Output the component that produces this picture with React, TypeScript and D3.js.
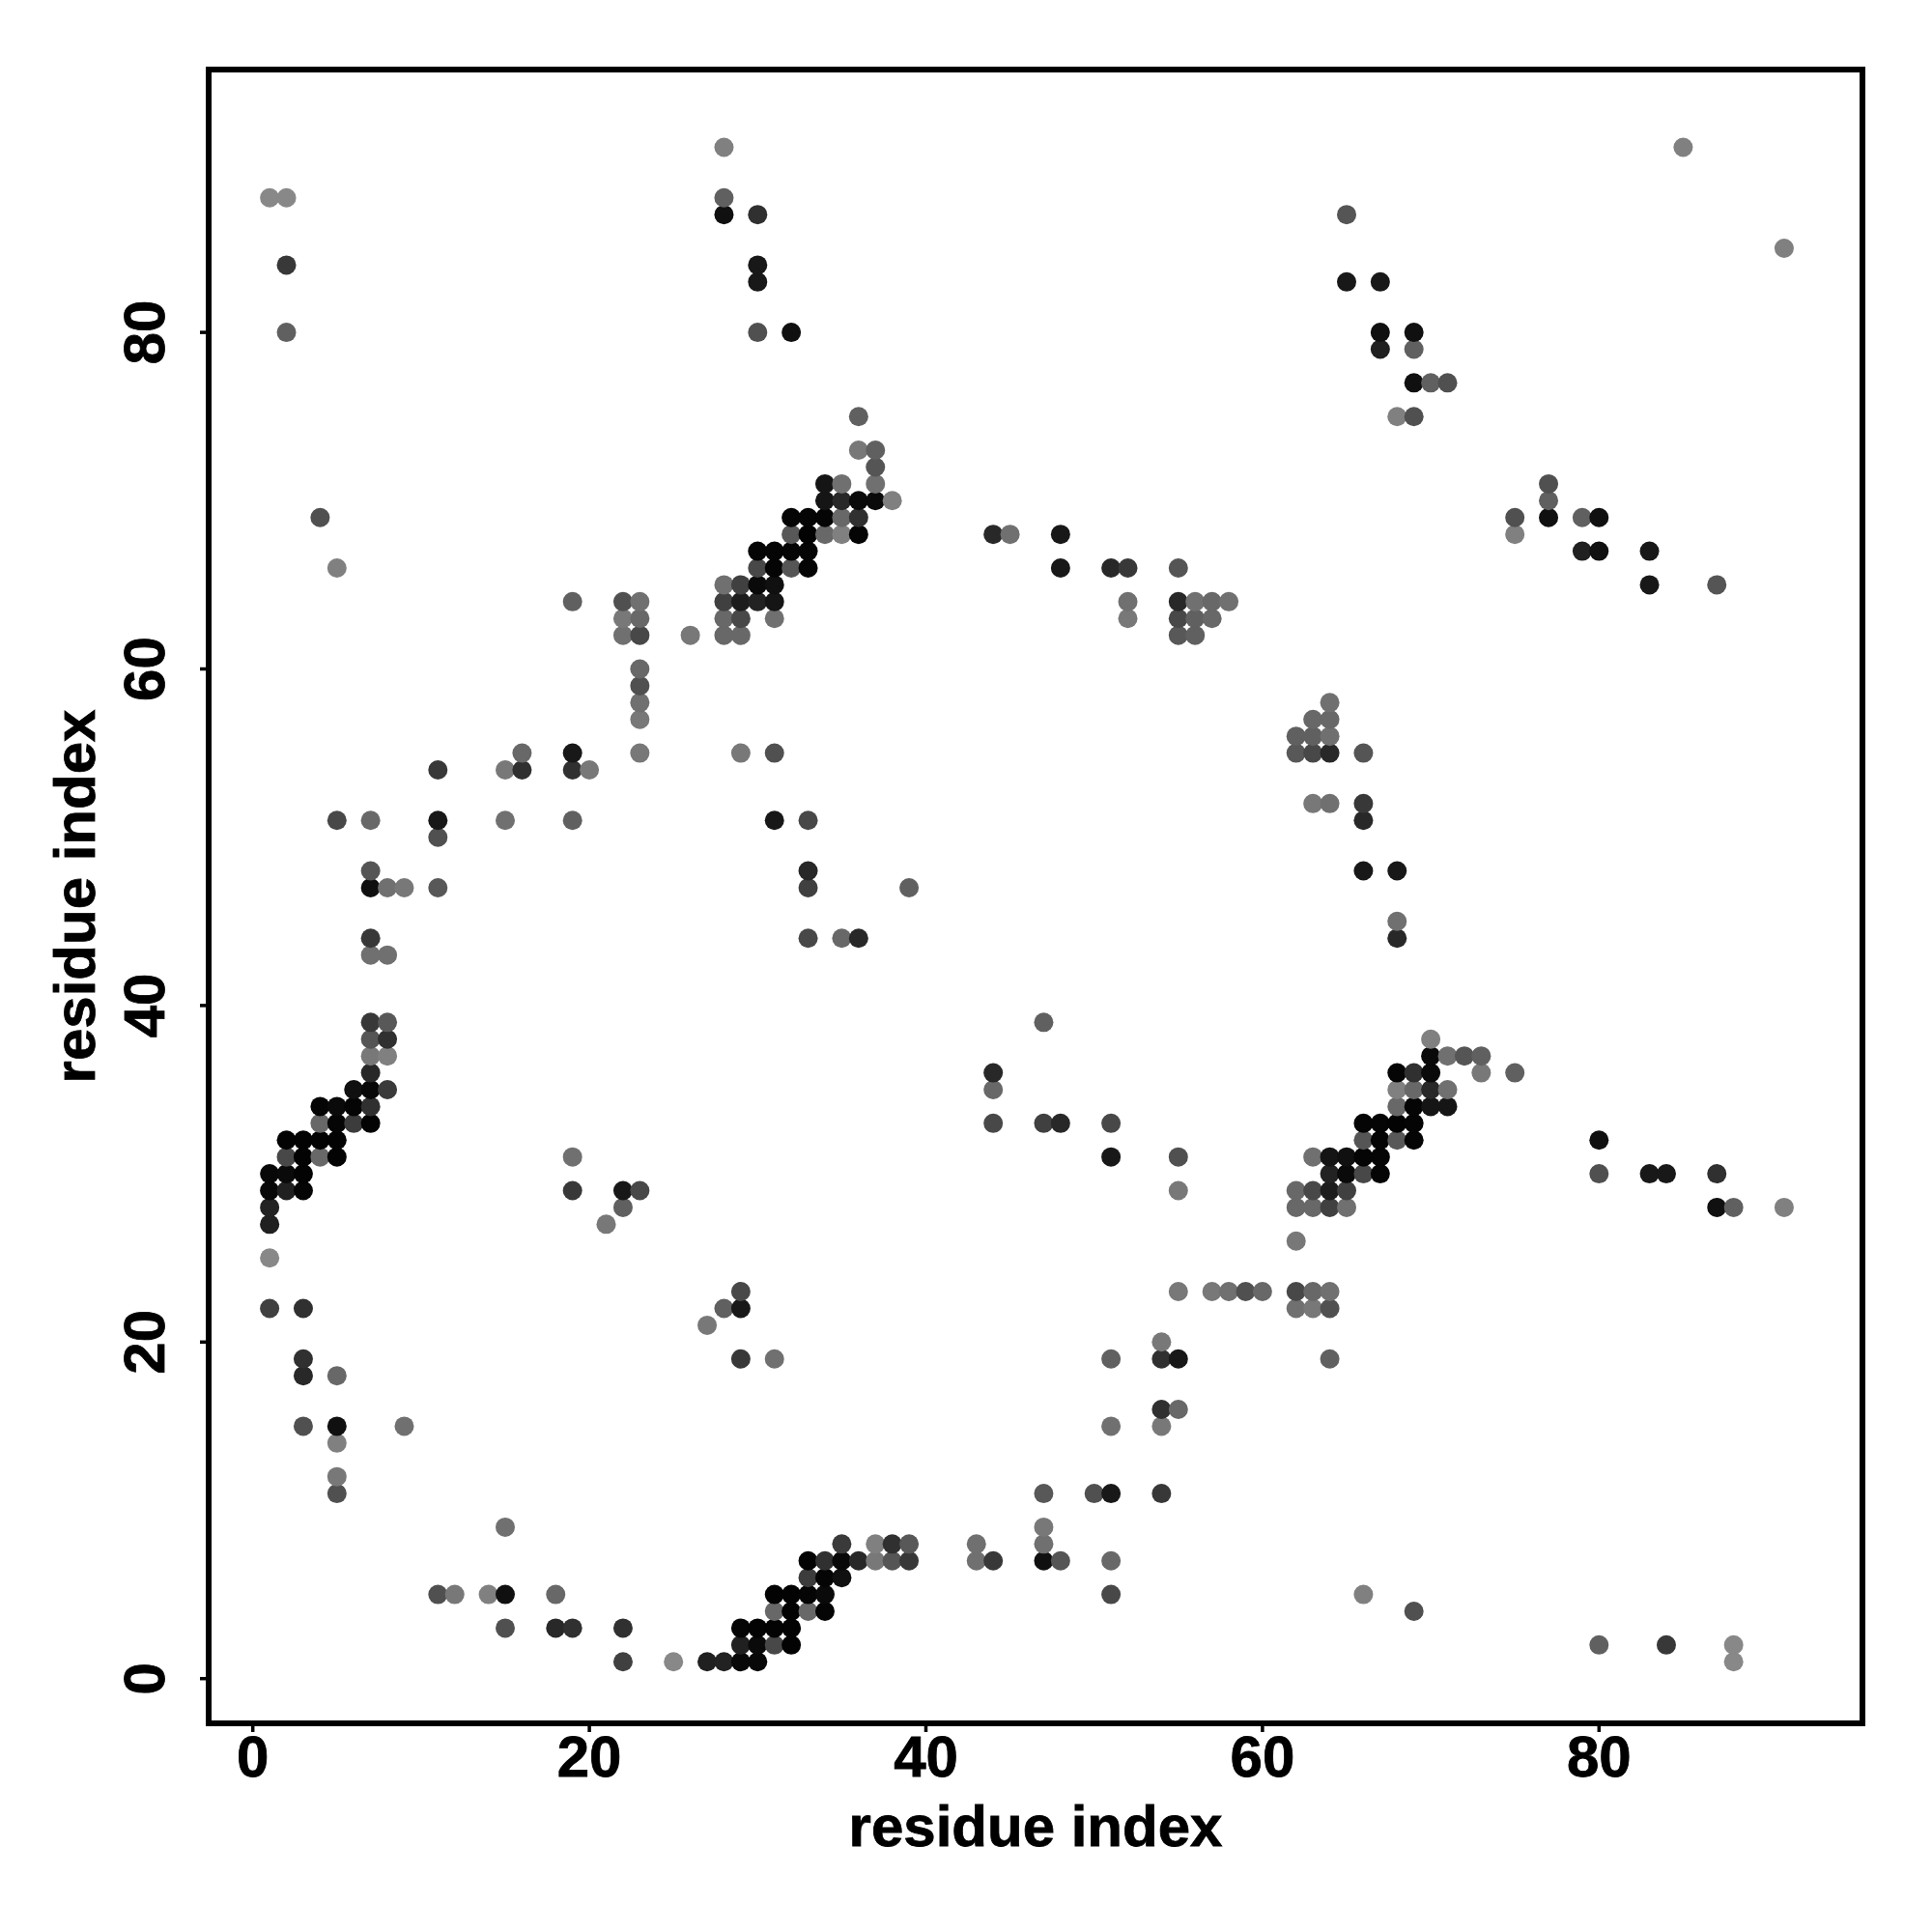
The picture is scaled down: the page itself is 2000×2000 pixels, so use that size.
import React from "react";
import * as d3 from "d3";

// Contact map is symmetric: each entry [i, j, grey level 0-255] marks (i,j) and (j,i)
const contactsLow: [number, number, number][] = [
  [1,22,0x40],[3,22,0x30],[3,19,0x30],[3,18,0x28],[5,18,0x68],[3,15,0x50],[5,15,0x10],[9,15,0x70],
  [5,14,0x80],[5,12,0x78],[5,11,0x50],[1,25,0x88],[1,27,0x20],[1,28,0x22],
  [1,29,0x08],[2,29,0x20],[3,29,0x05],[1,30,0x08],[2,30,0x0a],[3,30,0x03],
  [2,31,0x48],[3,31,0x03],[4,31,0x68],[5,31,0x03],[2,32,0x03],[3,32,0x03],[4,32,0x03],[5,32,0x03],
  [4,33,0x68],[5,33,0x05],[6,33,0x3c],[7,33,0x03],[4,34,0x05],[5,34,0x0a],[6,34,0x05],[7,34,0x30],
  [6,35,0x10],[7,35,0x08],[8,35,0x3a],[7,36,0x28],[7,37,0x78],[8,37,0x80],[7,38,0x55],[8,38,0x30],
  [7,39,0x38],[8,39,0x58],[7,43,0x70],[8,43,0x70],[7,44,0x38],
  [7,47,0x10],[8,47,0x70],[9,47,0x78],[11,47,0x58],[7,48,0x55],[11,50,0x50],
  [5,51,0x48],[7,51,0x68],[11,51,0x18],[15,51,0x70],[19,51,0x60],
  [11,54,0x38],[15,54,0x78],[16,54,0x30],[19,54,0x30],[20,54,0x78],[16,55,0x68],[19,55,0x18],
];

const contactsMid: [number, number, number][] = [
  [19,31,0x70],[19,29,0x38],[22,29,0x18],[23,29,0x48],[22,28,0x60],[21,27,0x78],
  [23,55,0x78],[29,55,0x78],[31,55,0x50],[23,57,0x78],[23,58,0x70],[23,59,0x50],[23,60,0x68],
  [22,62,0x70],[23,62,0x48],[26,62,0x78],[28,62,0x68],[29,62,0x68],
  [22,63,0x78],[23,63,0x68],[28,63,0x68],[29,63,0x48],[31,63,0x70],
  [19,64,0x60],[22,64,0x50],[23,64,0x70],[28,64,0x40],[29,64,0x1c],[30,64,0x22],[31,64,0x15],
  [28,65,0x70],[29,65,0x40],[30,65,0x0a],[31,65,0x10],
  [30,66,0x48],[31,66,0x05],[32,66,0x55],[33,66,0x05],
  [30,67,0x05],[31,67,0x05],[32,67,0x05],[33,67,0x05],
  [32,68,0x58],[33,68,0x03],[34,68,0x68],[35,68,0x80],[36,68,0x05],
  [32,69,0x05],[33,69,0x05],[34,69,0x05],[35,69,0x68],[36,69,0x30],
  [34,70,0x15],[35,70,0x28],[36,70,0x0a],[37,70,0x0a],[38,70,0x80],
  [34,71,0x15],[35,71,0x70],[37,71,0x70],[37,72,0x55],[36,73,0x78],[37,73,0x60],[36,75,0x60],
  [31,51,0x18],[33,51,0x48],[33,48,0x28],[33,47,0x40],[39,47,0x60],[33,44,0x48],[35,44,0x68],[36,44,0x28],
];

const contactsHigh: [number, number, number][] = [
  [4,69,0x50],[5,66,0x80],[44,68,0x28],[45,68,0x70],[48,68,0x18],[48,66,0x18],
  [51,66,0x28],[52,66,0x38],[55,66,0x55],[52,64,0x70],[55,64,0x28],[56,64,0x70],[57,64,0x68],[58,64,0x70],
  [52,63,0x78],[55,63,0x48],[56,63,0x60],[57,63,0x68],[55,62,0x58],[56,62,0x60],
  [68,75,0x80],[69,75,0x50],[69,77,0x10],[70,77,0x60],[71,77,0x50],[67,79,0x20],[69,79,0x60],
  [2,80,0x60],[30,80,0x50],[32,80,0x10],[67,80,0x10],[69,80,0x10],
  [30,83,0x18],[65,83,0x18],[67,83,0x18],[2,84,0x38],[30,84,0x18],
  [28,87,0x10],[30,87,0x30],[65,87,0x55],[1,88,0x88],[2,88,0x88],[28,88,0x60],[28,91,0x80],[85,91,0x80],
];

const xTicks = [0, 20, 40, 60, 80];
const yTicks = [0, 20, 40, 60, 80];
const xTitle = "residue index";
const yTitle = "residue index";

const font = "'Liberation Sans', Arial, sans-serif";

export default function App() {
  const x = d3.scaleLinear().domain([0, 80]).range([261.7, 1655.3]);
  const y = d3.scaleLinear().domain([0, 80]).range([1737.7, 344.1]);
  const box = { l: 216, r: 1928, t: 72, b: 1784 };
  const all = [...contactsLow, ...contactsMid, ...contactsHigh];
  const points = all
    .flatMap(([a, b, g]) => [
      { px: a, py: b, g },
      { px: b, py: a, g },
    ])
    .sort((p, q) => d3.ascending(p.px, q.px) || d3.ascending(p.py, q.py));
  const textProps = { fontSize: 60, stroke: "#000", strokeWidth: 0.8 };
  return (
    <svg
      width={2000}
      height={2000}
      style={{ position: "absolute", left: 0, top: 0, background: "#fff" }}
      fontFamily={font}
      fontWeight="bold"
    >
      {points.map((p, i) => (
        <circle key={i} cx={x(p.px)} cy={y(p.py)} r={10} fill={d3.rgb(p.g, p.g, p.g).formatHex()} />
      ))}
      <rect
        x={box.l}
        y={box.t}
        width={box.r - box.l}
        height={box.b - box.t}
        fill="none"
        stroke="#000"
        strokeWidth={6}
      />
      {xTicks.map((t) => (
        <g key={t}>
          <line x1={x(t)} x2={x(t)} y1={box.b} y2={box.b + 9} stroke="#000" strokeWidth={3.5} />
          <text x={x(t)} y={1839} textAnchor="middle" {...textProps}>
            {t}
          </text>
        </g>
      ))}
      {yTicks.map((t) => (
        <g key={t}>
          <line x1={box.l} x2={box.l - 9} y1={y(t)} y2={y(t)} stroke="#000" strokeWidth={3.5} />
          <text transform={`translate(170,${y(t)}) rotate(-90)`} textAnchor="middle" {...textProps}>
            {t}
          </text>
        </g>
      ))}
      <text x={1072} y={1911} textAnchor="middle" {...textProps}>
        {xTitle}
      </text>
      <text transform={`translate(98,928) rotate(-90)`} textAnchor="middle" {...textProps}>
        {yTitle}
      </text>
    </svg>
  );
}
